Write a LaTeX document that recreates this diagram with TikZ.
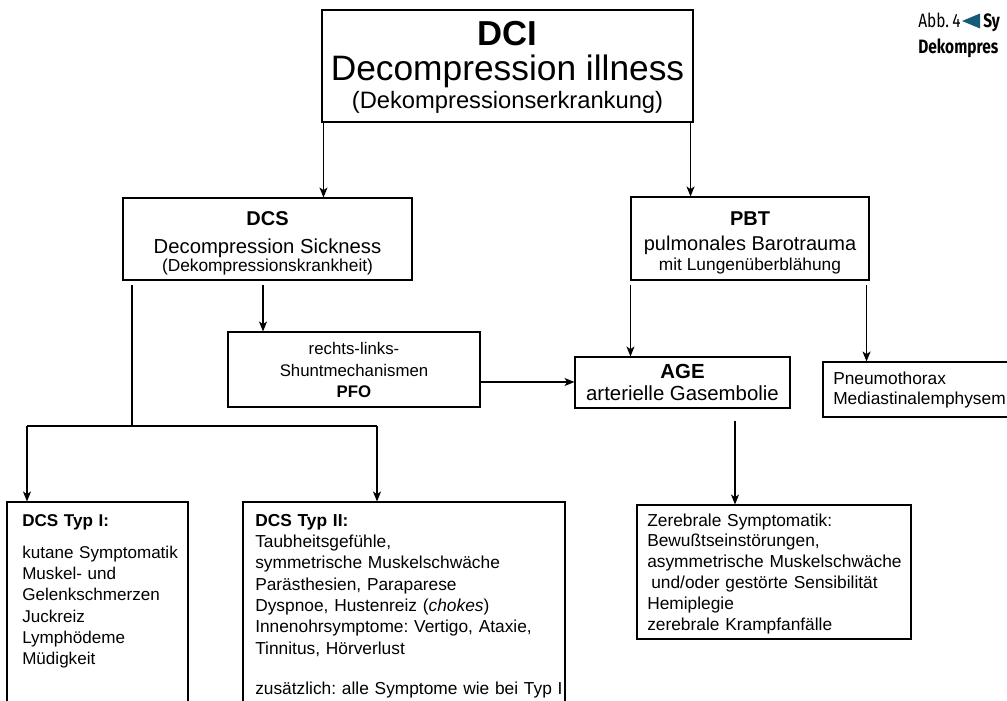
\documentclass[tikz,border=0pt]{standalone}
\usepackage{fontspec}
\setmainfont{Liberation Sans}
\newfontfamily\capfont[FakeStretch=0.8]{Fira Sans}
\usetikzlibrary{arrows.meta,fit}
\definecolor{capteal}{RGB}{22,92,122}
\frenchspacing
\begin{document}
\begin{tikzpicture}[x=0.75pt,y=-0.75pt,
  box/.style={draw, line width=0.8pt, inner sep=0pt},
  ln/.style={line width=0.8pt},
  arr/.style={line width=0.8pt, -{Stealth[length=7.5pt,width=6pt,inset=2pt]}},
  tx/.style={inner sep=0pt, anchor=base},
  lt/.style={inner sep=0pt, anchor=base west, align=left},
  sz/.style={font=\fontsize{#1}{#1}\selectfont}]
\useasboundingbox (0,0) rectangle (1007,700);
\clip (0,0) rectangle (1007,700);

% boxes
\node[box, fit={(322,10)(693,122)}] (dci) {};
\node[box, fit={(123,198)(412,280)}] (dcs) {};
\node[box, fit={(631,197)(869,280)}] (pbt) {};
\node[box, fit={(228,332)(480,407)}] (pfo) {};
\node[box, fit={(575,357)(790,408)}] (age) {};
\node[box, fit={(823,362)(1030,417)}] (pneu) {};
\node[box, fit={(7,502)(188,720)}] (typ1) {};
\node[box, fit={(243,502)(565,720)}] (typ2) {};
\node[box, fit={(637,505)(911,639)}] (zer) {};

% texts
\node[tx, font=\fontsize{26}{30}\selectfont\bfseries] (dciA) at (507.5,45) {DCI};
\node[tx, sz=26.5] (dciB) at (507.5,80) {Decompression illness};
\node[tx, sz=17.8] (dciC) at (507.5,108) {(Dekompressionserkrankung)};

\node[tx, font=\fontsize{15}{18}\selectfont\bfseries] (dcsA) at (267.5,225) {DCS};
\node[tx, sz=15.2] (dcsB) at (267.5,253) {Decompression Sickness};
\node[tx, sz=13] (dcsC) at (267.5,271) {(Dekompressionskrankheit)};

\node[tx, font=\fontsize{15}{18}\selectfont\bfseries] (pbtA) at (750,225) {PBT};
\node[tx, sz=15] (pbtB) at (750,250) {pulmonales Barotrauma};
\node[tx, sz=13] (pbtC) at (750,270) {mit Lungenüberblähung};

\node[tx, sz=12.6] (pfoA) at (354,354) {rechts-links-};
\node[tx, sz=12.6] (pfoB) at (354,376) {Shuntmechanismen};
\node[tx, font=\fontsize{12.6}{15}\selectfont\bfseries] (pfoC) at (354,397) {PFO};

\node[tx, font=\fontsize{15.3}{18}\selectfont\bfseries] (ageA) at (682.5,378) {AGE};
\node[tx, sz=15.3] (ageB) at (682.5,400) {arterielle Gasembolie};

\node[lt, font=\fontsize{13}{15}\selectfont, text width=200pt] (pneuT) at (833,384) {Pneumothorax\\Mediastinalemphysem};

\node[lt, font=\fontsize{12.8}{16}\selectfont, text width=200pt] (typ1T) at (22,526)
 {\textbf{DCS Typ I:}\\[8pt]kutane Symptomatik\\Muskel- und\\Gelenkschmerzen\\Juckreiz\\Lymphödeme\\Müdigkeit};
\node[lt, font=\fontsize{13}{16}\selectfont, text width=320pt] (typ2T) at (255,526)
 {\textbf{DCS Typ II:}\\Taubheitsgefühle,\\symmetrische Muskelschwäche\\Parästhesien, Paraparese\\Dyspnoe, Hustenreiz (\textit{chokes})\\Innenohrsymptome: Vertigo, Ataxie,\\Tinnitus, Hörverlust\\[14.5pt]zusätzlich: alle Symptome wie bei Typ I};
\node[lt, font=\fontsize{13}{15.6}\selectfont, text width=250pt] (zerT) at (647,526)
 {Zerebrale Symptomatik:\\Bewußtseinstörungen,\\asymmetrische Muskelschwäche\\\hspace*{3pt}und/oder gestörte Sensibilität\\Hemiplegie\\zerebrale Krampfanfälle};

% caption (top right)
\node[tx, anchor=base west, font=\capfont\fontsize{14.5}{17}\selectfont] (capA) at (918,27) {Abb.\,4};
\fill[capteal] (962,21) -- (980,13.5) -- (980,28.5) -- cycle;
\node[tx, anchor=base west, font=\capfont\bfseries\fontsize{14.5}{17}\selectfont] (capB) at (983,27) {Sy};
\node[tx, anchor=base west, font=\capfont\bfseries\fontsize{14.5}{17}\selectfont] (capC) at (918,53) {Dekompres};

% connectors
\draw[arr] ([xshift=1.5pt]dci.south west) -- ([xshift=1.5pt]dci.south west |- dcs.north);
\draw[arr] ([xshift=-2.25pt]dci.south east) -- ([xshift=-2.25pt]dci.south east |- pbt.north);

\coordinate (jm) at (132,426);
\coordinate (jl) at (27,426);
\coordinate (jr) at (377,426);
\draw[ln, shorten <=3.5pt] (jm |- dcs.south) -- (jm);
\draw[ln] (jl) -- (jr);
\draw[arr] (jl) -- (jl |- typ1.north);
\draw[arr] (jr) -- (jr |- typ2.north);

\coordinate (xp) at (263,300);
\draw[arr, shorten <=3.5pt] (xp |- dcs.south) -- (xp |- pfo.north);

\coordinate (yp) at (500,382);
\draw[arr] (pfo.east |- yp) -- (age.west |- yp);

\draw[arr, shorten <=3.5pt] (pbt.south west) -- (pbt.south west |- age.north);
\draw[arr, shorten <=3.5pt] ([xshift=-2.25pt]pbt.south east) -- ([xshift=-2.25pt]pbt.south east |- pneu.north);

\coordinate (xa) at (735,450);
\draw[arr, shorten <=9pt] (xa |- age.south) -- (xa |- zer.north);
\end{tikzpicture}
\end{document}
